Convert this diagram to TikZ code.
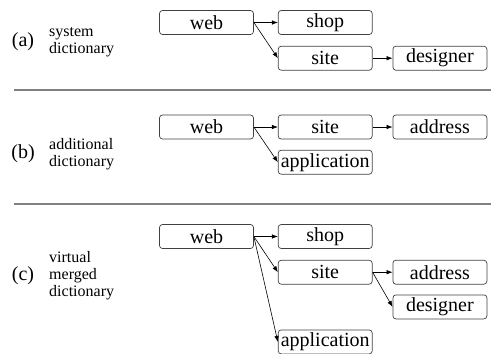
\documentclass[tikz,border=0pt]{standalone}
\usepackage{fontspec}
\setmainfont{Liberation Serif}
\usetikzlibrary{positioning, arrows.meta}

\tikzset{
  entry/.style={draw=black!75, rounded corners=3pt, line width=0.7pt,
    minimum width=94pt, minimum height=24pt, inner sep=1pt,
    font=\fontsize{20}{22}\selectfont},
  tag/.style={font=\fontsize{20}{22}\selectfont, inner sep=0pt},
  caption/.style={anchor=west, align=left, inner sep=0pt,
    font=\fontsize{16}{17}\selectfont},
  rule/.style={draw=black!50, line width=1.3pt},
  link/.style={->, line width=0.6pt}
}

\begin{document}
\begin{tikzpicture}[x=1pt, y=-1pt, >={Latex[length=6pt,width=4.5pt]}]
  \useasboundingbox (0,0) rectangle (491,354);

  % (a) system dictionary
  \node[tag] (a_tag) at (23,42) {(a)};
  \node[caption] (a_cap) at (49,42) {system\\dictionary};
  \node[entry] (a_web) at (206.5,22.5) {web};
  \node[entry, right=24pt of a_web] (a_shop) {shop};
  \node[entry, below=11pt of a_shop] (a_site) {site};
  \node[entry, right=20pt of a_site] (a_designer) {designer};

  \draw[link] (a_web.east) -- (a_shop.west);
  \draw[link] (a_web.east) -- (a_site.west);
  \draw[link] (a_site.east) -- (a_designer.west);

  \draw[rule] (14,90) -- (491,90);

  % (b) additional dictionary
  \node[tag] (b_tag) at (23,154) {(b)};
  \node[caption] (b_cap) at (49,154) {additional\\dictionary};
  \node[entry] (b_web) at (206.5,127) {web};
  \node[entry, right=24pt of b_web] (b_site) {site};
  \node[entry, right=20pt of b_site] (b_address) {address};
  \node[entry, below=10.5pt of b_site] (b_application) {application};

  \draw[link] (b_web.east) -- (b_site.west);
  \draw[link] (b_web.east) -- (b_application.west);
  \draw[link] (b_site.east) -- (b_address.west);

  \draw[rule] (14,204) -- (491,204);

  % (c) virtual merged dictionary
  \node[tag] (c_tag) at (23,276) {(c)};
  \node[caption] (c_cap) at (49,276) {virtual\\merged\\dictionary};
  \node[entry] (c_web) at (206.5,236.5) {web};
  \node[entry, right=24pt of c_web] (c_shop) {shop};
  \node[entry, below=11pt of c_shop] (c_site) {site};
  \node[entry, right=20pt of c_site] (c_address) {address};
  \node[entry, below=10pt of c_address] (c_designer) {designer};
  \node[entry, below=45pt of c_site] (c_application) {application};

  \draw[link] (c_web.east) -- (c_shop.west);
  \draw[link] (c_web.east) -- (c_site.west);
  \draw[link] (c_web.east) -- (c_application.west);
  \draw[link] (c_site.east) -- (c_address.west);
  \draw[link] (c_site.east) -- (c_designer.west);
\end{tikzpicture}
\end{document}
